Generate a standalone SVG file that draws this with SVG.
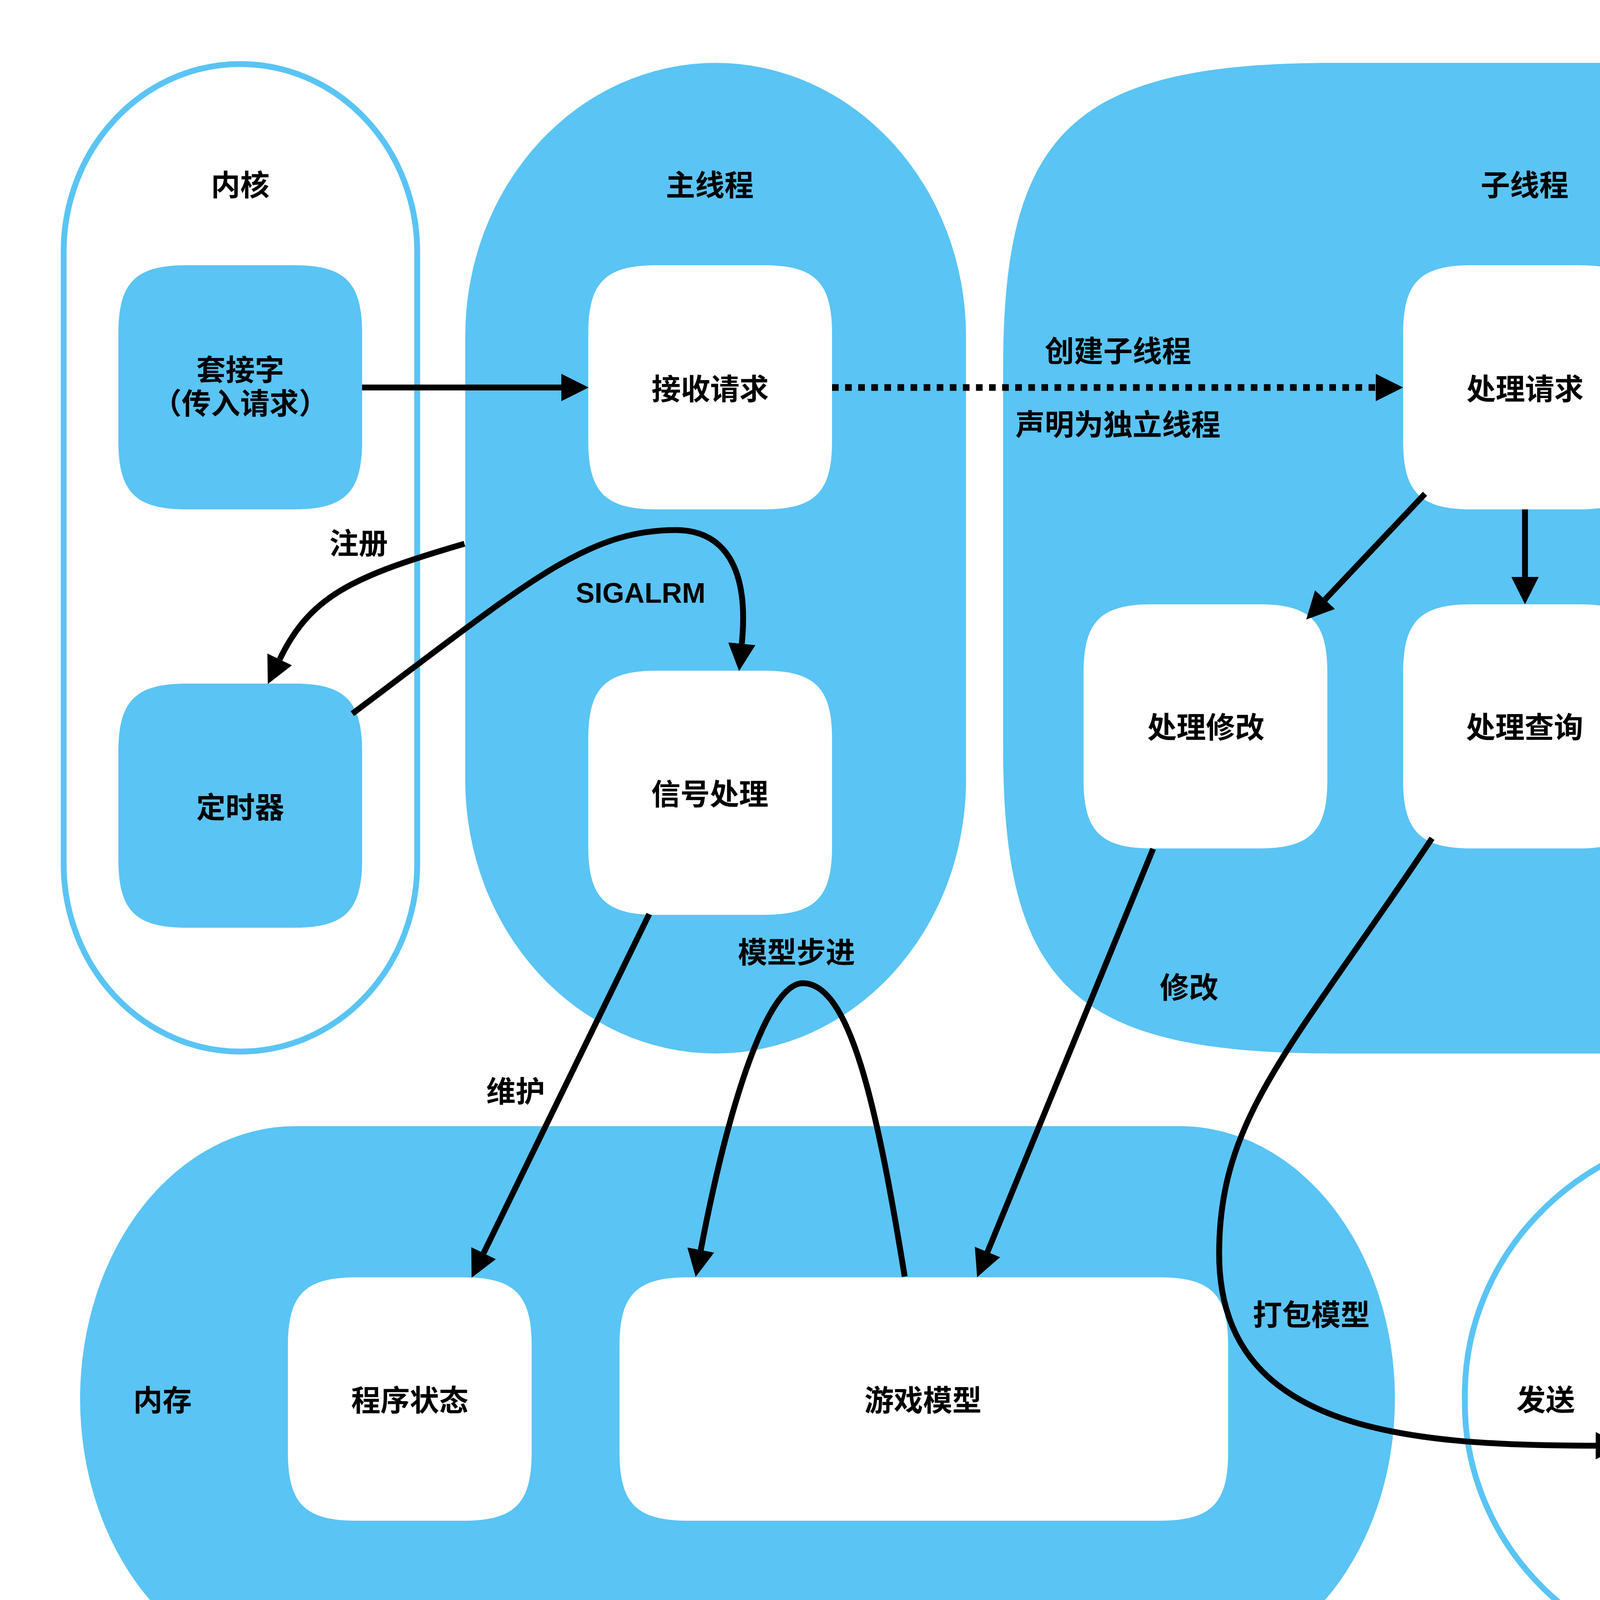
<svg xmlns="http://www.w3.org/2000/svg" width="5394" height="4436" viewBox="0 0 5394 4436">
<defs>
<style>
.cb{fill:#5AC4F4}
.co{fill:#fff;stroke:#5AC4F4;stroke-width:15}
.nw{fill:#fff}
.nb{fill:#5AC4F4}
text{font-family:"Noto Sans CJK SC","Noto Sans",sans-serif;font-weight:700;font-size:75px;text-anchor:middle;fill:#000}
text.en{font-family:"Liberation Sans",Arial,sans-serif;font-size:72px}
.edge{fill:none;stroke:#000;stroke-width:15;marker-end:url(#ah)}
.dot{stroke-width:17;stroke-dasharray:17 16.5}
</style>
<marker id="ah" markerUnits="userSpaceOnUse" markerWidth="70" markerHeight="70" viewBox="0 0 70 70" refX="0" refY="35" orient="auto"><path d="M0,0 L70,35 L0,70 z" fill="#000"/></marker>
</defs>
<rect x="0" y="0" width="5394" height="4436" fill="#fff"/>

<g id="containers">
<g id="kernel-left"><rect class="co" x="163" y="164" width="905" height="2528" rx="452" ry="480"/><text x="615" y="501">内核</text></g>
<g id="main-thread"><rect class="cb" x="1191" y="161" width="1282" height="2536" rx="641" ry="700"/><text x="1817" y="501">主线程</text></g>
<g id="sub-thread"><path class="cb" d="M3418,161 H4389 C5054.5,161 5239,330.3 5239,941 V1917 C5239,2527.7 5054.5,2697 4389,2697 H3418 C2752.5,2697 2568,2527.7 2568,1917 V941 C2568,330.3 2752.5,161 3418,161 Z"/><text x="3903" y="501">子线程</text></g>
<g id="memory"><rect class="cb" x="205" y="2883" width="3366" height="1396" rx="550" ry="698"/><text x="416" y="3612">内存</text></g>
<g id="kernel-right"><rect class="co" x="3750" y="2890" width="1444" height="1382" rx="710" ry="680"/><text x="4472" y="3091">内核</text></g>
</g>

<g id="nodes">
<g id="socket-in"><path class="nb" d="M478,679 h274 c131.25,0 175,43.75 175,175 v275 c0,131.25 -43.75,175 -175,175 h-274 c-131.25,0 -175,-43.75 -175,-175 v-275 c0,-131.25 43.75,-175 175,-175 z"/><text x="615" y="974">套接字</text><text x="615" y="1060">（传入请求）</text></g>
<g id="timer"><path class="nb" d="M478,1750 h274 c131.25,0 175,43.75 175,175 v275 c0,131.25 -43.75,175 -175,175 h-274 c-131.25,0 -175,-43.75 -175,-175 v-275 c0,-131.25 43.75,-175 175,-175 z"/><text x="615" y="2094">定时器</text></g>
<g id="receive"><path class="nw" d="M1681,679 h274 c131.25,0 175,43.75 175,175 v275 c0,131.25 -43.75,175 -175,175 h-274 c-131.25,0 -175,-43.75 -175,-175 v-275 c0,-131.25 43.75,-175 175,-175 z"/><text x="1818" y="1023">接收请求</text></g>
<g id="signal"><path class="nw" d="M1681,1717 h274 c131.25,0 175,43.75 175,175 v275 c0,131.25 -43.75,175 -175,175 h-274 c-131.25,0 -175,-43.75 -175,-175 v-275 c0,-131.25 43.75,-175 175,-175 z"/><text x="1817" y="2060">信号处理</text></g>
<g id="process"><path class="nw" d="M3767,679 h274 c131.25,0 175,43.75 175,175 v275 c0,131.25 -43.75,175 -175,175 h-274 c-131.25,0 -175,-43.75 -175,-175 v-275 c0,-131.25 43.75,-175 175,-175 z"/><text x="3904" y="1023">处理请求</text></g>
<g id="modify"><path class="nw" d="M2949,1547 h274 c131.25,0 175,43.75 175,175 v275 c0,131.25 -43.75,175 -175,175 h-274 c-131.25,0 -175,-43.75 -175,-175 v-275 c0,-131.25 43.75,-175 175,-175 z"/><text x="3087" y="1889">处理修改</text></g>
<g id="query"><path class="nw" d="M3767,1547 h274 c131.25,0 175,43.75 175,175 v275 c0,131.25 -43.75,175 -175,175 h-274 c-131.25,0 -175,-43.75 -175,-175 v-275 c0,-131.25 43.75,-175 175,-175 z"/><text x="3903" y="1889">处理查询</text></g>
<g id="error"><path class="nw" d="M4583,1557 h274 c131.25,0 175,43.75 175,175 v275 c0,131.25 -43.75,175 -175,175 h-274 c-131.25,0 -175,-43.75 -175,-175 v-275 c0,-131.25 43.75,-175 175,-175 z"/><text x="4719" y="1899">处理错误</text></g>
<g id="state"><path class="nw" d="M912,3270 h274 c131.25,0 175,43.75 175,175 v273 c0,131.25 -43.75,175 -175,175 h-274 c-131.25,0 -175,-43.75 -175,-175 v-273 c0,-131.25 43.75,-175 175,-175 z"/><text x="1049" y="3612">程序状态</text></g>
<g id="game"><path class="nw" d="M1761,3270 h1208 c131.25,0 175,43.75 175,175 v273 c0,131.25 -43.75,175 -175,175 h-1208 c-131.25,0 -175,-43.75 -175,-175 v-273 c0,-131.25 43.75,-175 175,-175 z"/><text x="2363" y="3612">游戏模型</text></g>
<g id="socket-out"><path class="nb" d="M4331,3365 h274 c131.25,0 175,43.75 175,175 v275 c0,131.25 -43.75,175 -175,175 h-274 c-131.25,0 -175,-43.75 -175,-175 v-275 c0,-131.25 43.75,-175 175,-175 z"/><text x="4465" y="3667">套接字</text><text x="4465" y="3749">（响应请求）</text></g>
</g>

<g id="connectors">
<path class="edge" d="M927,992 H1437"/>
<path class="edge dot" d="M2130,992 H3522"/>
<path class="edge" d="M1189,1392 C901,1476 794,1526 716,1688"/>
<path class="edge" d="M902,1827 C1350,1491 1500,1357 1730,1357 C1850,1357 1919,1448 1899,1648"/>
<path class="edge" d="M3648,1264 L3392,1535"/>
<path class="edge" d="M3904,1304 V1477"/>
<path class="edge" d="M4158,1264 L4415,1543"/>
<path class="edge" d="M1662,2340 L1238,3208"/>
<path class="edge" d="M2316,3268 C2244,2824 2175,2517 2055,2517 C1965,2517 1865,2827 1794,3200"/>
<path class="edge" d="M2952,2173 L2528,3205"/>
<path class="edge" d="M3666,2146 C3305,2686 3121,2859 3121,3209 C3121,3659 3585,3701 4085,3701"/>
</g>

<g id="edge-labels">
<text x="2862" y="926">创建子线程</text>
<text x="2862" y="1114">声明为独立线程</text>
<text x="918" y="1418">注册</text>
<text class="en" x="1640" y="1543">SIGALRM</text>
<text x="2039" y="2465">模型步进</text>
<text x="3044" y="2555">修改</text>
<text x="1320" y="2821">维护</text>
<text x="3357" y="3393">打包模型</text>
<text x="3957" y="3611">发送</text>
</g>
</svg>
